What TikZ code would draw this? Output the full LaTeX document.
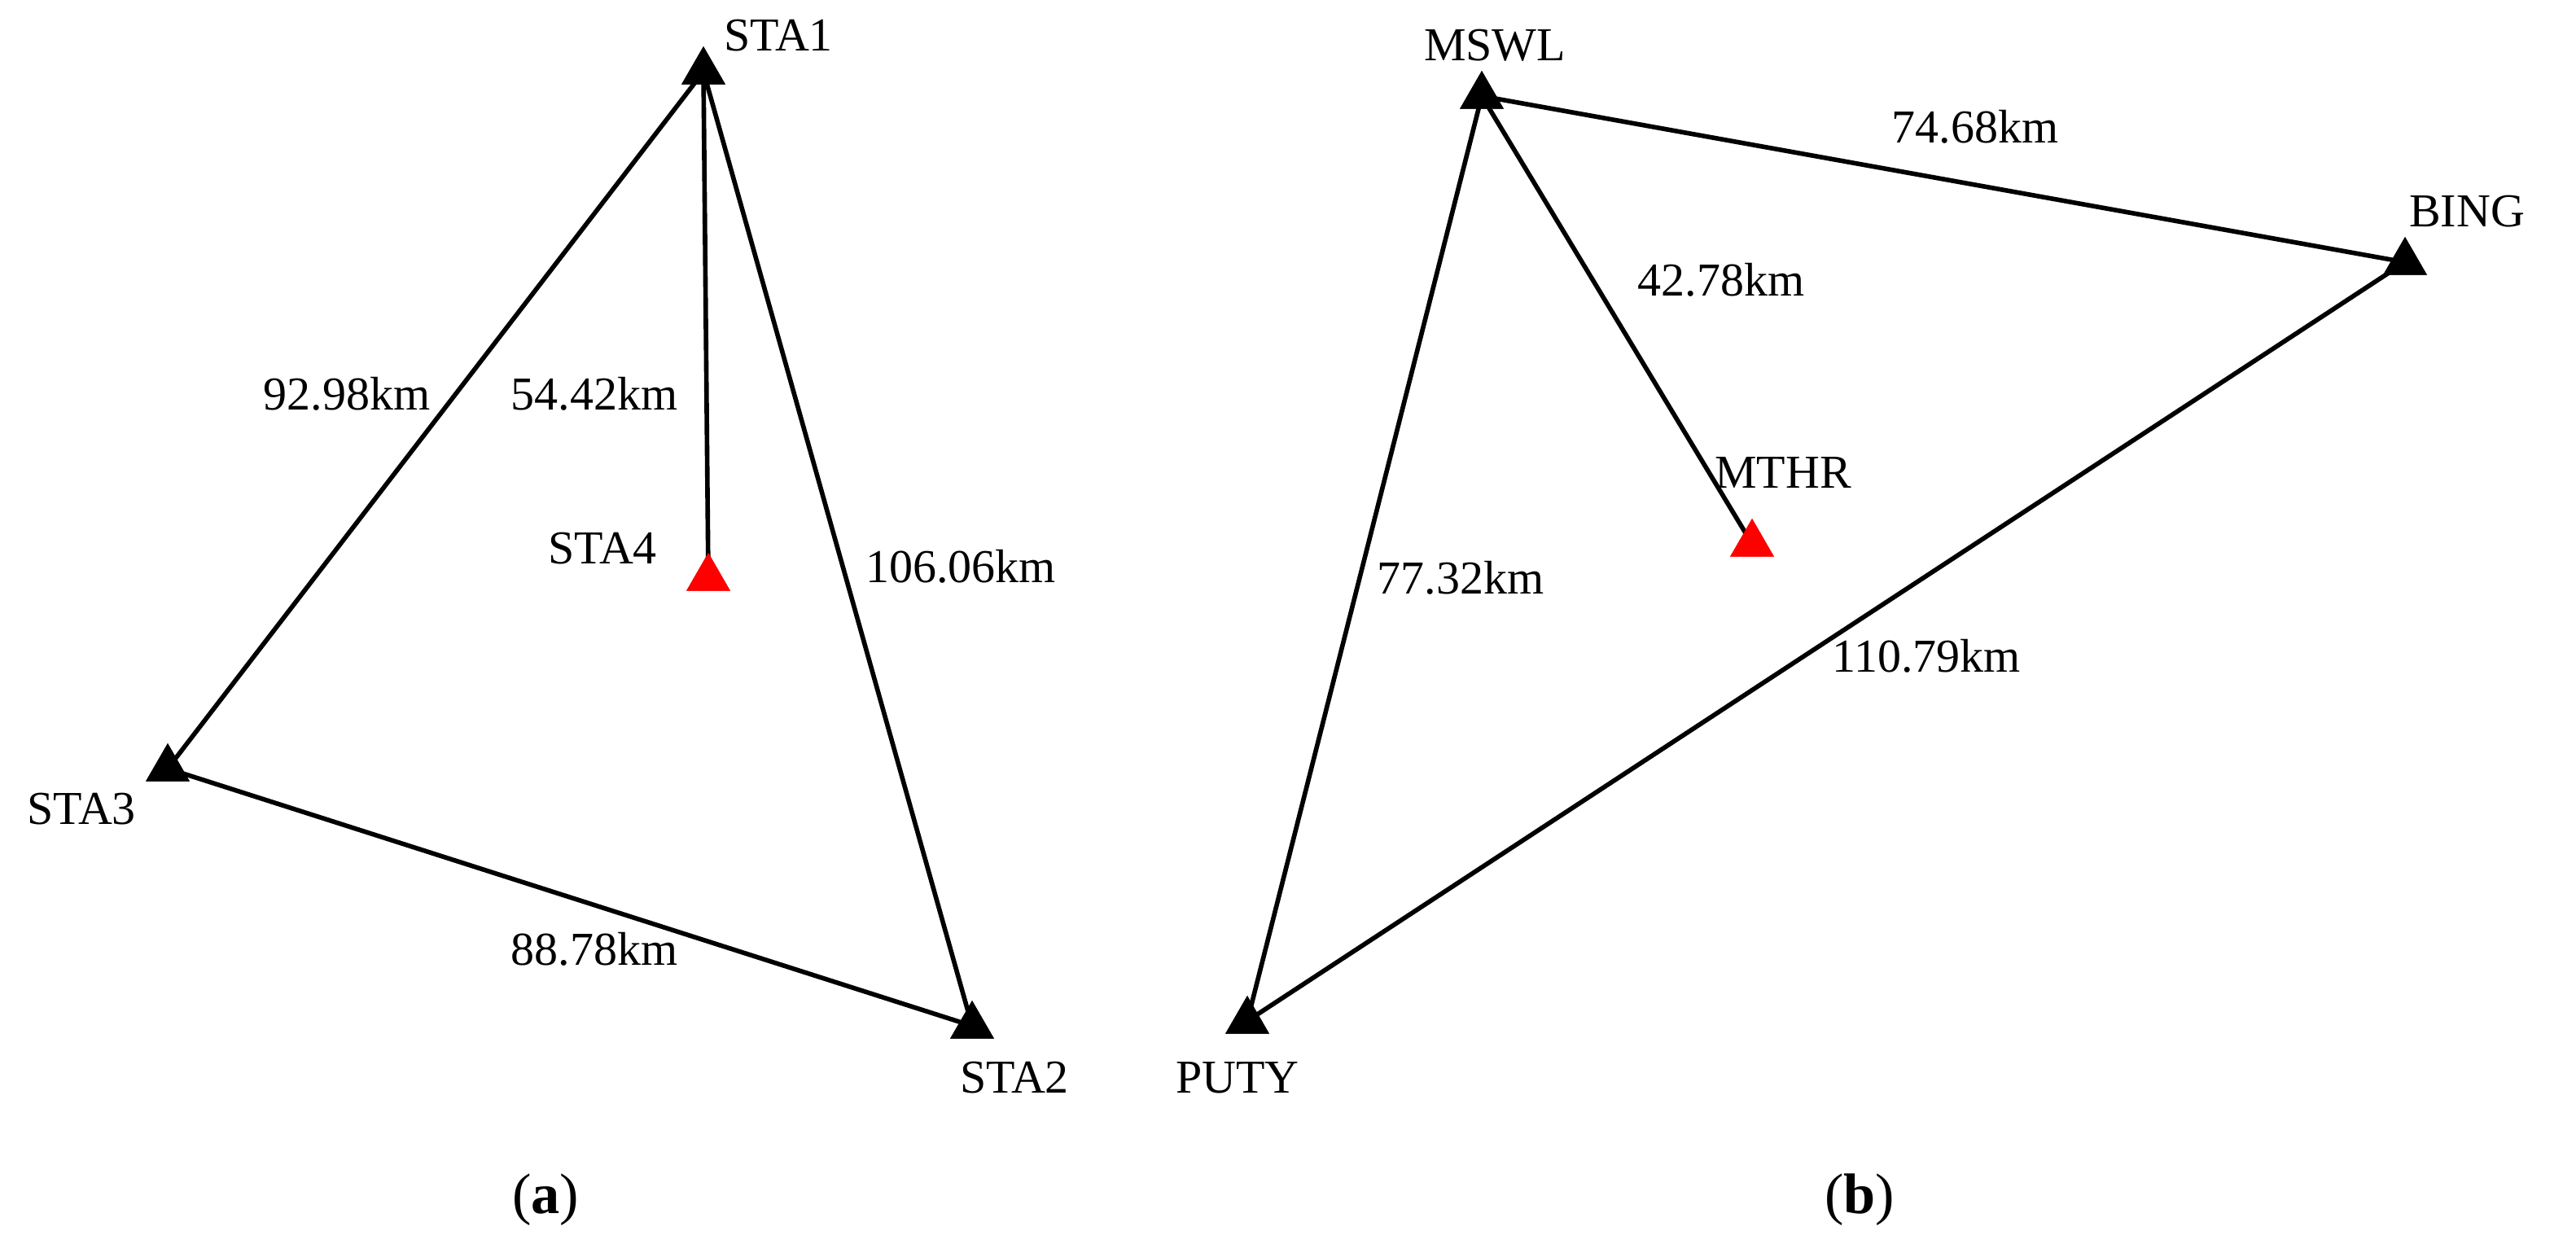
\documentclass[tikz,border=0pt]{standalone}
\usepackage{fontspec}
\setmainfont{Liberation Serif}
\usetikzlibrary{shapes.geometric}
\begin{document}
\begin{tikzpicture}[x=0.02cm,y=-0.02cm,
  st/.style={regular polygon,regular polygon sides=3,fill=black,minimum size=0.62cm,inner sep=0pt},
  red st/.style={st,fill=red},
  lbl/.style={font=\fontsize{16.5}{19}\selectfont,inner sep=0pt},
  subcap/.style={font=\fontsize{20}{24}\selectfont,inner sep=0pt},
  ln/.style={line width=1.6pt}]
\useasboundingbox (0,0) rectangle (1582,769);
\node[st] (sta1) at (432,44) {};
\node[red st] (sta4) at (435,355) {};
\node[st] (sta3) at (103,472) {};
\node[st] (sta2) at (597,630) {};
\node[st] (mswl) at (910,59) {};
\node[st] (bing) at (1477,161) {};
\node[red st] (mthr) at (1076,334) {};
\node[st] (puty) at (766,627) {};
\draw[ln] (sta1.center) -- (sta4.center);
\draw[ln] (sta1.center) -- (sta3.center) -- (sta2.center) -- (sta1.center);
\draw[ln] (mswl.center) -- (mthr.center);
\draw[ln] (mswl.center) -- (bing.center) -- (puty.center) -- (mswl.center);
\node[st] at (sta1) {}; \node[red st] at (sta4) {}; \node[st] at (sta3) {}; \node[st] at (sta2) {};
\node[st] at (mswl) {}; \node[st] at (bing) {}; \node[red st] at (mthr) {}; \node[st] at (puty) {};
\node[lbl] (l1) at (478,22) {STA1};
\node[lbl] (l2) at (213,242) {92.98km};
\node[lbl] (l3) at (365,242) {54.42km};
\node[lbl] (l4) at (370,337) {STA4};
\node[lbl] (l5) at (590,348) {106.06km};
\node[lbl] (l6) at (50,497) {STA3};
\node[lbl] (l7) at (365,583) {88.78km};
\node[lbl] (l8) at (623,662) {STA2};
\node[lbl] (l9) at (918,28) {MSWL};
\node[lbl] (l10) at (1213,78) {74.68km};
\node[lbl] (l11) at (1515,130) {BING};
\node[lbl] (l12) at (1057,172) {42.78km};
\node[lbl] (l13) at (1095,290) {MTHR};
\node[lbl] (l14) at (897,355) {77.32km};
\node[lbl] (l15) at (1183,403) {110.79km};
\node[lbl] (l16) at (760,662) {PUTY};
\node[subcap] (la) at (335,737) {(\textbf{a})};
\node[subcap] (lb) at (1142,737) {(\textbf{b})};
\end{tikzpicture}
\end{document}
